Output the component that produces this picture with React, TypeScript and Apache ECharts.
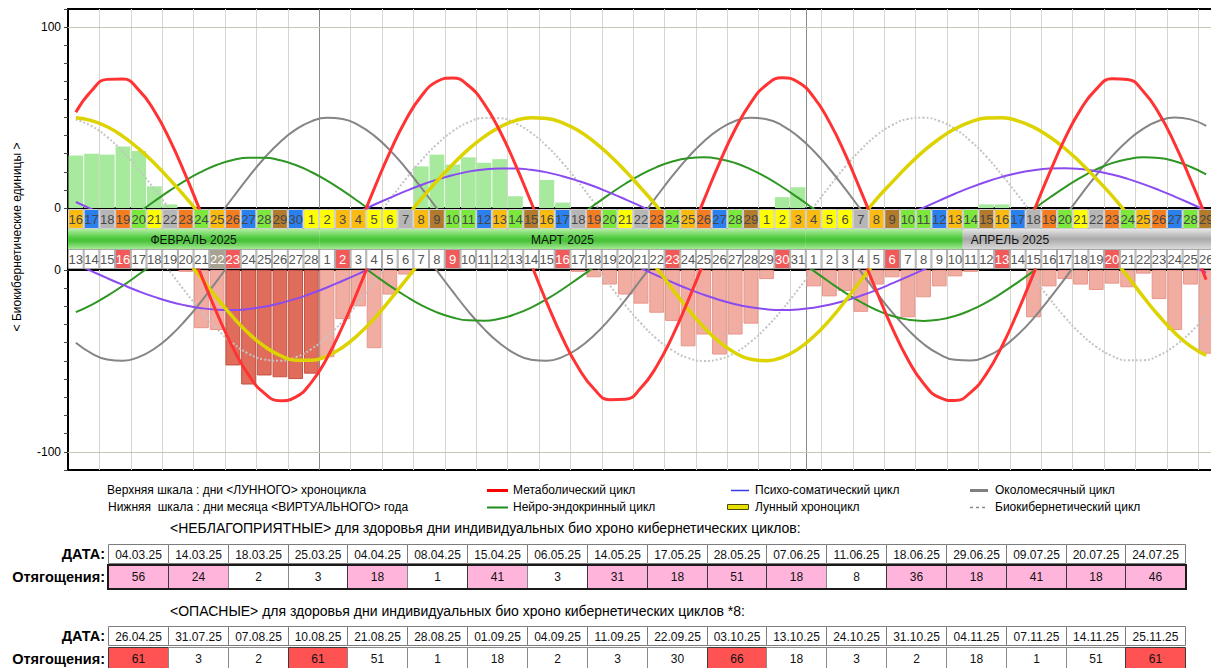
import React, { useEffect, useRef } from "react";
import * as echarts from "echarts";

const FONT = "'Liberation Sans', Arial, sans-serif";

// ---------- DATA ----------
const lowerDays = [
  13, 14, 15, 16, 17, 18, 19, 20, 21, 22, 23, 24, 25, 26, 27, 28,
  1, 2, 3, 4, 5, 6, 7, 8, 9, 10, 11, 12, 13, 14, 15, 16, 17, 18, 19, 20, 21, 22, 23, 24, 25, 26, 27, 28, 29, 30, 31,
  1, 2, 3, 4, 5, 6, 7, 8, 9, 10, 11, 12, 13, 14, 15, 16, 17, 18, 19, 20, 21, 22, 23, 24, 25, 26,
];
// n = ordinary day, s = Sunday (red), k = marked day (khaki)
const dayMarks = (
  "nnnsnnnnnksnnnnn" +
  "nsnnnnnnsnnnnnnsnnnnnnsnnnnnnsn" +
  "nnnnnsnnnnnnsnnnnnnsnnnnnn"
).split("");
const lunarDays = [
  16, 17, 18, 19, 20, 21, 22, 23, 24, 25, 26, 27, 28, 29, 30,
  1, 2, 3, 4, 5, 6, 7, 8, 9, 10, 11, 12, 13, 14, 15, 16, 17, 18, 19, 20, 21, 22, 23, 24, 25, 26, 27, 28, 29,
  1, 2, 3, 4, 5, 6, 7, 8, 9, 10, 11, 12, 13, 14, 15, 16, 17, 18, 19, 20, 21, 22, 23, 24, 25, 26, 27, 28, 29,
];
const monthNames = ["ФЕВРАЛЬ 2025", "МАРТ 2025", "АПРЕЛЬ 2025"];
const monthSpans = [[0, 15], [16, 46], [47, 72]];
const lastPastIndex = 56; // 10 April – band turns grey afterwards

const metabolic = [52.9, 64.8, 71.1, 71.3, 65.3, 53.6, 37.4, 17.9, -3.2, -24.0, -42.7, -57.7, -67.7, -71.9, -69.9, -61.8, -48.4, -30.8, -10.6, 10.6, 30.8, 48.4, 61.8, 69.9, 71.9, 67.7, 57.7, 42.7, 24.0, 3.2, -17.9, -37.4, -53.6, -65.3, -71.3, -71.1, -64.8, -52.9, -36.5, -16.8, 4.2, 25.0, 43.5, 58.3, 68.1, 72.0, 69.6, 61.3, 47.6, 29.9, 9.5, -11.6, -31.8, -49.2, -62.4, -70.1, -71.8, -67.3, -57.1, -41.8, -22.9, -2.1, 18.9, 38.3, 54.4, 65.7, 71.4, 71.0, 64.4, 52.2, 35.5, 15.8, -5.3];
const neuro = [-23.2, -19.2, -14.2, -8.6, -2.5, 3.7, 9.7, 15.3, 20.0, 23.9, 26.5, 27.8, 27.8, 26.4, 23.8, 19.9, 15.1, 9.6, 3.6, -2.6, -8.7, -14.3, -19.3, -23.3, -26.1, -27.7, -27.9, -26.8, -24.3, -20.7, -16.0, -10.6, -4.6, 1.5, 7.7, 13.4, 18.5, 22.6, 25.7, 27.5, 28.0, 27.1, 24.9, 21.4, 16.9, 11.6, 5.7, -0.5, -6.6, -12.4, -17.6, -22.0, -25.3, -27.3, -28.0, -27.3, -25.3, -22.1, -17.8, -12.6, -6.8, -0.6, 5.5, 11.4, 16.8, 21.3, 24.8, 27.0, 28.0, 27.6, 25.8, 22.8, 18.6];
const psycho = [3.3, -0.6, -4.5, -8.2, -11.7, -14.8, -17.5, -19.5, -21.0, -21.8, -22.0, -21.4, -20.2, -18.3, -15.9, -12.9, -9.6, -5.9, -2.1, 1.8, 5.6, 9.3, 12.7, 15.7, 18.1, 20.1, 21.3, 21.9, 21.9, 21.1, 19.7, 17.6, 15.0, 12.0, 8.5, 4.8, 0.9, -3.0, -6.8, -10.4, -13.6, -16.5, -18.8, -20.5, -21.6, -22.0, -21.7, -20.7, -19.1, -16.9, -14.2, -11.0, -7.4, -3.6, 0.2, 4.1, 7.9, 11.4, 14.5, 17.2, 19.4, 20.9, 21.8, 22.0, 21.5, 20.3, 18.5, 16.1, 13.2, 9.9, 6.3, 2.5, -1.4];
const monthly = [-40.0, -45.8, -49.2, -49.9, -47.9, -43.3, -36.4, -27.5, -17.1, -5.8, 5.8, 17.1, 27.5, 36.4, 43.3, 47.9, 49.9, 49.2, 45.8, 40.0, 32.0, 22.2, 11.3, -0.3, -11.8, -22.7, -32.4, -40.3, -46.1, -49.3, -49.9, -47.8, -43.1, -36.0, -27.0, -16.6, -5.2, 6.4, 17.7, 28.0, 36.8, 43.6, 48.1, 49.9, 49.1, 45.6, 39.6, 31.5, 21.7, 10.7, -0.9, -12.4, -23.3, -32.8, -40.7, -46.3, -49.4, -49.8, -47.6, -42.8, -35.6, -26.6, -16.0, -4.7, 7.0, 18.2, 28.5, 37.2, 43.9, 48.2, 50.0, 49.0, 45.4];
const lunarCycle = [49.9, 48.3, 44.9, 39.6, 32.8, 24.7, 15.6, 5.9, -4.5, -15.6, -25.8, -34.8, -41.9, -47.0, -49.6, -49.7, -47.3, -42.5, -35.5, -26.8, -16.6, -5.7, 5.0, 14.9, 24.1, 32.4, 39.3, 44.7, 48.3, 49.9, 49.5, 47.1, 42.8, 36.7, 29.2, 20.5, 11.0, 1.0, -10.5, -21.5, -31.5, -39.6, -45.6, -49.1, -49.9, -48.0, -43.5, -36.6, -27.7, -17.2, -5.8, 4.9, 14.3, 23.3, 31.4, 38.3, 43.8, 47.6, 49.7, 49.9, 48.2, 44.7, 39.5, 32.9, 25.0, 16.2, 6.8, -3.5, -14.8, -25.3, -34.5, -41.9, -47.0];
const biocyber = [48.9, 45.3, 39.2, 31.1, 21.4, 10.5, -0.9, -12.2, -22.9, -32.5, -40.3, -46.0, -49.2, -49.9, -48.0, -43.5, -36.8, -28.1, -18.0, -6.9, 4.6, 15.8, 26.2, 35.2, 42.4, 47.3, 49.7, 49.6, 46.8, 41.6, 34.2, 25.0, 14.4, 3.2, -8.3, -19.3, -29.3, -37.8, -44.2, -48.4, -50.0, -49.0, -45.4, -39.4, -31.4, -21.7, -10.8, 0.6, 11.9, 22.7, 32.2, 40.1, 45.8, 49.2, 49.9, 48.1, 43.7, 37.0, 28.4, 18.2, 7.2, -4.3, -15.5, -25.9, -35.0, -42.2, -47.2, -49.7, -49.6, -46.9, -41.7, -34.4, -25.2];

const N = null;
const upperBars = [29, 30, 29.5, 34, 31.5, 12, 2, N, N, N, N, N, N, N, N, N, N, N, N, N, N, N, 23, 29.5, 24, 28, 25, 27, 6.5, N, 15.5, 3, N, N, N, N, N, N, N, N, N, N, N, N, N, 6, 11.5, N, N, N, N, N, N, N, N, N, N, N, 2, 2, N, N, N, N, N, N, N, N, N, N, N, N, N];
const lowerBars = [N, N, N, N, N, N, N, -1, -32, -33, N, N, N, N, N, N, -48, -27, -20, -43, -13.5, -2.5, N, N, N, N, N, N, N, N, N, N, -1, -4, -8, -13.5, -18.5, -23.5, -28, -42, -35.5, -46.5, -35.5, -29.5, -5, N, N, -9, -14.5, -11.5, -23, -8, -4, -26, -15, -9, -3.5, -1, N, N, N, -26, -9, -5, -8, -11, -7.5, -9.5, -2, -16, -33, -8, -46];
const lowerBarsStrong = [N, N, N, N, N, N, N, N, N, N, -52.5, -63, -58, -59, -60, -57, N, N, N, N, N, N, N, N, N, N, N, N, N, N, N, N, N, N, N, N, N, N, N, N, N, N, N, N, N, N, N, N, N, N, N, N, N, N, N, N, N, N, N, N, N, N, N, N, N, N, N, N, N, N, N, N, N];

const badDates = ["04.03.25", "14.03.25", "18.03.25", "25.03.25", "04.04.25", "08.04.25", "15.04.25", "06.05.25", "14.05.25", "17.05.25", "28.05.25", "07.06.25", "11.06.25", "18.06.25", "29.06.25", "09.07.25", "20.07.25", "24.07.25"];
const badLoads = [56, 24, 2, 3, 18, 1, 41, 3, 31, 18, 51, 18, 8, 36, 18, 41, 18, 46];
const dangerDates = ["26.04.25", "31.07.25", "07.08.25", "10.08.25", "21.08.25", "28.08.25", "01.09.25", "04.09.25", "11.09.25", "22.09.25", "03.10.25", "13.10.25", "24.10.25", "31.10.25", "04.11.25", "07.11.25", "14.11.25", "25.11.25"];
const dangerLoads = [61, 3, 2, 61, 51, 1, 18, 2, 3, 30, 66, 18, 3, 2, 18, 1, 51, 61];

// ---------- STYLE ----------
const GOLD = "#fbbb10", BLUE = "#2b80f0", GREY = "#b6b6b6", ORANGE = "#f47d22", GREEN = "#7ce83e", YELLOW = "#ffff00", BROWN = "#b27a2c";
const LUNAR_COLOR: any = {
  1: YELLOW, 2: YELLOW, 3: GOLD, 4: GOLD, 5: YELLOW, 6: YELLOW, 7: GREY, 8: GOLD, 9: BROWN, 10: GREEN,
  11: GREEN, 12: BLUE, 13: GOLD, 14: GREEN, 15: BROWN, 16: GOLD, 17: BLUE, 18: GREY, 19: ORANGE, 20: GREEN,
  21: YELLOW, 22: GREY, 23: ORANGE, 24: GREEN, 25: GOLD, 26: ORANGE, 27: BLUE, 28: GREEN, 29: BROWN, 30: BLUE,
};
const GL = 68;
const GW = 1146;

const categories = lowerDays.map((d, i) => {
  const m = monthSpans.findIndex((s) => i >= s[0] && i <= s[1]);
  return `${d}.${m + 2}`;
});
const monthStarts = monthSpans.map((s) => s[0]).filter((i) => i > 0);

function buildOption(): any {
  const catAxis = (gridIndex: number, split: boolean) => ({
    type: "category",
    gridIndex,
    data: categories,
    boundaryGap: true,
    axisLine: { show: false },
    axisTick: { show: false },
    axisLabel: { show: false },
    splitLine: { show: split, lineStyle: { color: "#d6d6ca", width: 1 } },
  });
  const monthAxis = (gridIndex: number) => ({
    ...catAxis(gridIndex, true),
    splitLine: {
      show: true,
      interval: (idx: number) => monthStarts.indexOf(idx) >= 0,
      lineStyle: { color: "#8c8c8c", width: 1 },
    },
  });
  const valAxis = (gridIndex: number, min: number, max: number, shown: number[]) => ({
    type: "value",
    gridIndex,
    min,
    max,
    interval: 10,
    axisLine: { show: true, lineStyle: { color: "#000", width: 2 } },
    axisTick: { show: true, length: 4, lineStyle: { color: "#444" } },
    axisLabel: {
      formatter: (v: number) => (shown.indexOf(v) >= 0 ? String(v) : ""),
      color: "#000",
      fontSize: 12,
      fontFamily: FONT,
      margin: 7,
    },
    splitLine: { show: false },
  });
  const stripY = (gridIndex: number, border: boolean) => ({
    type: "value",
    gridIndex,
    min: 0,
    max: 1,
    axisLine: { show: border, lineStyle: { color: "#000", width: 2 } },
    axisTick: { show: false },
    axisLabel: { show: false },
    splitLine: { show: false },
  });

  const curves = [
    { data: biocyber, color: "#c4c4c4", width: 2, dash: "dotted", z: 3 },
    { data: monthly, color: "#858585", width: 2, dash: "solid", z: 4 },
    { data: neuro, color: "#2e9622", width: 2, dash: "solid", z: 4 },
    { data: psycho, color: "#8a4cf0", width: 2, dash: "solid", z: 4 },
    { data: lunarCycle, color: "#dcd300", width: 3.5, dash: "solid", z: 5 },
    { data: metabolic, color: "#ff3333", width: 3, dash: "solid", z: 6 },
  ];
  const lineSeries: any[] = [];
  [0, 4].forEach((ax) => {
    curves.forEach((c) => {
      lineSeries.push({
        type: "line",
        xAxisIndex: ax,
        yAxisIndex: ax,
        data: c.data,
        smooth: true,
        showSymbol: false,
        silent: true,
        z: c.z,
        lineStyle: { color: c.color, width: c.width, type: c.dash },
      });
    });
  });

  const greenGrad = new echarts.graphic.LinearGradient(0, 0, 0, 1, [
    { offset: 0, color: "#b2eea2" },
    { offset: 0.45, color: "#4fc93e" },
    { offset: 0.6, color: "#48c238" },
    { offset: 1, color: "#a4ea94" },
  ]);
  const greyGrad = new echarts.graphic.LinearGradient(0, 0, 0, 1, [
    { offset: 0, color: "#e6e6e6" },
    { offset: 0.5, color: "#a9a9a9" },
    { offset: 1, color: "#dadada" },
  ]);
  const bandSegs: any[] = [];
  monthSpans.forEach(([s, e]) => {
    if (s <= lastPastIndex) bandSegs.push([s, Math.min(e, lastPastIndex), "past"]);
    if (e > lastPastIndex) bandSegs.push([Math.max(s, lastPastIndex + 1), e, "future"]);
  });

  // ---------- graphic: titles, legend, tables ----------
  const g: any[] = [];
  const txt = (x: number, y: number, text: string, opts: any = {}) =>
    g.push({
      type: "text",
      x,
      y,
      silent: true,
      rotation: opts.rotation || 0,
      style: {
        text,
        font: `${opts.bold ? "bold " : ""}${opts.size || 12}px ${FONT}`,
        fill: opts.fill || "#000",
        align: opts.align || "left",
        textAlign: opts.align || "left",
        verticalAlign: "middle",
        textVerticalAlign: "middle",
      },
    });
  txt(17, 237, "< Биокибернетические единицы >", { align: "center", rotation: Math.PI / 2 });

  txt(107, 490, "Верхняя шкала : дни <ЛУННОГО> хроноцикла");
  txt(108, 507, "Нижняя  шкала : дни месяца <ВИРТУАЛЬНОГО> года");
  const lg = (x1: number, x2: number, y: number, color: string, w: number, dash?: number[]) =>
    g.push({ type: "line", silent: true, shape: { x1, y1: y, x2, y2: y }, style: { stroke: color, lineWidth: w, lineDash: dash } });
  lg(487, 508, 490.5, "#ff0000", 3);
  txt(513, 490, "Метаболический цикл");
  lg(487, 508, 507.5, "#1f8c1f", 2);
  txt(513, 507, "Нейро-эндокринный цикл");
  lg(731, 749, 490.5, "#3a3af0", 1.5);
  txt(755, 490, "Психо-соматический цикл");
  g.push({ type: "rect", silent: true, shape: { x: 727.5, y: 504.5, width: 21, height: 5 }, style: { fill: "#e8e000", stroke: "#4a4a10", lineWidth: 1 } });
  txt(755, 507, "Лунный хроноцикл");
  lg(970, 988, 490.5, "#808080", 3);
  txt(995, 490, "Околомесячный цикл");
  lg(970, 988, 507.5, "#8a8a8a", 1.5, [3, 3]);
  txt(995, 507, "Биокибернетический цикл");

  txt(170, 528, "<НЕБЛАГОПРИЯТНЫЕ> для здоровья дни индивидуальных био хроно кибернетических циклов:", { size: 14 });
  txt(170, 611, "<ОПАСНЫЕ> для здоровья дни индивидуальных био хроно кибернетических циклов *8:", { size: 14 });

  const TX = 108;
  const CW = 59.85;
  const table = (dates: string[], loads: number[], y0: number, hot: (v: number) => string | null, thick: boolean) => {
    const hD = 19;
    const yV = y0 + hD + 2;
    const hV = 23;
    txt(105, y0 + hD / 2 + 0.5, "ДАТА:", { bold: true, size: 14.5, align: "right" });
    txt(105, yV + hV / 2, "Отягощения:", { bold: true, size: 14.5, align: "right" });
    dates.forEach((d, i) => {
      const x = Math.round(TX + i * CW) + 0.5;
      const w = Math.round(TX + (i + 1) * CW) - Math.round(TX + i * CW);
      g.push({ type: "rect", silent: true, shape: { x, y: y0 + 0.5, width: w, height: hD }, style: { fill: "#fff", stroke: "#7c7c7c", lineWidth: 1 } });
      txt(x + w / 2, y0 + hD / 2 + 1, d, { align: "center", fill: "#111" });
      const fill = hot(loads[i]);
      g.push({
        type: "rect",
        silent: true,
        shape: { x, y: yV + 0.5, width: w, height: hV },
        style: { fill: fill || "#fff", stroke: fill ? "#3a3a3a" : "#8a8a8a", lineWidth: 1 },
      });
      txt(x + w / 2, yV + hV / 2, String(loads[i]), { align: "center", fill: "#111" });
    });
    if (thick) {
      g.push({
        type: "rect",
        silent: true,
        shape: { x: TX, y: yV, width: Math.round(TX + dates.length * CW) - TX + 1, height: hV + 1 },
        style: { fill: "none", stroke: "#1a1a1a", lineWidth: 2 },
      });
    }
  };
  table(badDates, badLoads, 544, (v) => (v >= 10 ? "#ffb4dc" : null), true);
  table(dangerDates, dangerLoads, 626, (v) => (v >= 60 ? "#ff5252" : null), false);

  return {
    animation: false,
    backgroundColor: "#ffffff",
    textStyle: { fontFamily: FONT },
    grid: [
      { left: GL, top: 9, width: GW, height: 199, show: true, borderColor: "#000", borderWidth: 2 },
      { left: GL, top: 209, width: GW, height: 20, show: true, borderColor: "#000", borderWidth: 1 },
      { left: GL, top: 229, width: GW, height: 20, show: false },
      { left: GL, top: 249, width: GW, height: 20, show: true, borderColor: "#000", borderWidth: 1 },
      { left: GL, top: 270, width: GW, height: 200, show: true, borderColor: "#000", borderWidth: 2 },
    ],
    xAxis: [catAxis(0, true), catAxis(1, false), catAxis(2, false), catAxis(3, false), catAxis(4, true), monthAxis(0), monthAxis(4)],
    yAxis: [valAxis(0, 0, 110, [0, 100]), stripY(1, true), stripY(2, true), stripY(3, true), valAxis(4, -110, 0, [0, -100])],
    series: [
      {
        type: "bar",
        xAxisIndex: 0,
        yAxisIndex: 0,
        data: upperBars,
        barCategoryGap: "6%",
        silent: true,
        z: 2,
        itemStyle: { color: "#a7ea9d" },
        markLine: {
          silent: true,
          symbol: "none",
          label: { show: false },
          lineStyle: { color: "#c6c6b8", width: 1, type: "solid" },
          data: [{ yAxis: 100 }],
        },
      },
      {
        type: "bar",
        xAxisIndex: 4,
        yAxisIndex: 4,
        data: lowerBars,
        barCategoryGap: "6%",
        barGap: "-100%",
        silent: true,
        z: 2,
        itemStyle: { color: "#f2ada3", borderColor: "#e8958a", borderWidth: 1 },
        markLine: {
          silent: true,
          symbol: "none",
          label: { show: false },
          lineStyle: { color: "#c6c6b8", width: 1, type: "solid" },
          data: [{ yAxis: -100 }],
        },
      },
      {
        type: "bar",
        xAxisIndex: 4,
        yAxisIndex: 4,
        data: lowerBarsStrong,
        barCategoryGap: "6%",
        barGap: "-100%",
        silent: true,
        z: 2,
        itemStyle: { color: "#e06c5c", borderColor: "#c65242", borderWidth: 1 },
      },
      ...lineSeries,
      {
        type: "bar",
        xAxisIndex: 1,
        yAxisIndex: 1,
        silent: true,
        barCategoryGap: "0%",
        data: lunarDays.map((d) => ({ value: 1, itemStyle: { color: LUNAR_COLOR[d] } })),
        itemStyle: { borderColor: "#cfcfcf", borderWidth: 1 },
        label: {
          show: true,
          position: "inside",
          formatter: (p: any) => String(lunarDays[p.dataIndex]),
          color: "#474747",
          fontSize: 13,
          fontFamily: FONT,
        },
      },
      {
        type: "custom",
        xAxisIndex: 2,
        yAxisIndex: 2,
        silent: true,
        data: bandSegs.map((s) => [s[0], s[1]]),
        renderItem: (params: any, api: any) => {
          const s = api.value(0);
          const e = api.value(1);
          const a = api.coord([s, 1]);
          const b = api.coord([e, 0]);
          const w = api.size([1, 0])[0];
          const kind = bandSegs[params.dataIndex][2];
          return {
            type: "rect",
            shape: { x: a[0] - w / 2, y: a[1], width: b[0] - a[0] + w, height: b[1] - a[1] },
            style: { fill: kind === "past" ? greenGrad : greyGrad },
          };
        },
      },
      {
        type: "custom",
        xAxisIndex: 2,
        yAxisIndex: 2,
        silent: true,
        z: 3,
        data: monthSpans.map((s) => [s[0], s[1]]),
        renderItem: (params: any, api: any) => {
          const a = api.coord([api.value(0), 1]);
          const b = api.coord([api.value(1), 0]);
          return {
            type: "text",
            x: (a[0] + b[0]) / 2,
            y: (a[1] + b[1]) / 2 + 1,
            style: {
              text: monthNames[params.dataIndex],
              font: `12px ${FONT}`,
              fill: "#111",
              align: "center",
              verticalAlign: "middle",
              textAlign: "center",
              textVerticalAlign: "middle",
            },
          };
        },
      },
      {
        type: "bar",
        xAxisIndex: 3,
        yAxisIndex: 3,
        silent: true,
        barCategoryGap: "0%",
        data: lowerDays.map((d, i) => {
          const m = dayMarks[i];
          const bg = m === "s" ? "#f25a5a" : m === "k" ? "#a8a292" : "#ffffff";
          return { value: 1, itemStyle: { color: bg }, label: { color: m === "n" ? "#555555" : "#ffffff" } };
        }),
        itemStyle: { borderColor: "#a8a8a8", borderWidth: 1 },
        label: {
          show: true,
          position: "inside",
          formatter: (p: any) => String(lowerDays[p.dataIndex]),
          fontSize: 13,
          fontFamily: FONT,
        },
      },
    ],
    graphic: g,
  };
}

export default function App() {
  const ref = useRef<HTMLDivElement>(null);
  useEffect(() => {
    const chart = echarts.init(ref.current as HTMLDivElement, null, { renderer: "svg" });
    chart.setOption(buildOption());
    return () => chart.dispose();
  }, []);
  return (
    <div
      ref={ref}
      style={{ position: "fixed", left: 0, top: 0, width: 1216, height: 668, background: "#fff" }}
    />
  );
}
